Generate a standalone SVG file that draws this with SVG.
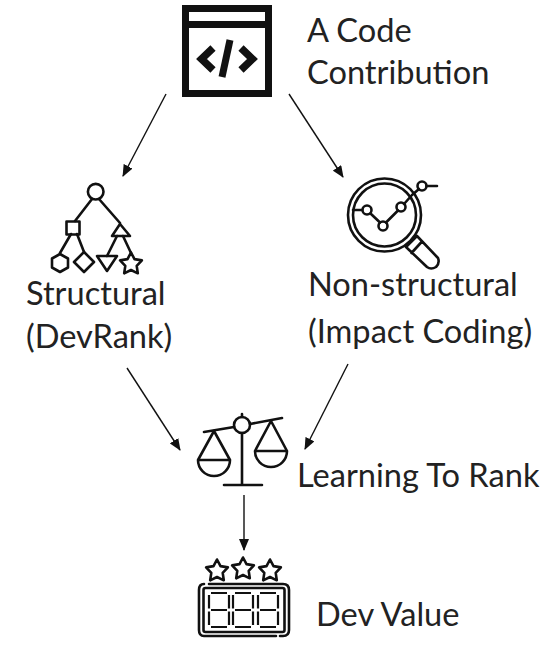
<svg xmlns="http://www.w3.org/2000/svg" width="557" height="645" viewBox="0 0 557 645">
<style>
text{font-family:"Lato","Open Sans","Liberation Sans",sans-serif;font-size:32.600px;fill:#222}
.l{fill:none;stroke:#111;stroke-width:2.600;stroke-linejoin:round;stroke-linecap:round}
.c{fill:none;stroke:#111;stroke-width:1.400}
.d{fill:none;stroke:#111;stroke-width:2.200;stroke-linecap:butt}
</style>
<defs>
<marker id="a" markerWidth="12" markerHeight="10" refX="11" refY="5" orient="auto" markerUnits="userSpaceOnUse"><path d="M0 0L12 5L0 10Z" fill="#111"/></marker>
<path id="s" d="M0-11.500L3.500-4.900L10.900-3.600L5.700 1.900L6.800 9.300L0 6L-6.800 9.300L-5.700 1.900L-10.900-3.600L-3.500-4.900Z"/>
<g id="dg"><path d="M2 0H18M2 34H18M2 17H18M0 2V15.500M0 18.500V32M20 2V15.500M20 18.500V32"/></g>
</defs>
<g id="connectors">
<path class="c" marker-end="url(#a)" d="M166 94L123 176"/>
<path class="c" marker-end="url(#a)" d="M289 94L343 177"/>
<path class="c" marker-end="url(#a)" d="M127 368L180 450"/>
<path class="c" marker-end="url(#a)" d="M348 364L305 449"/>
<path class="c" marker-end="url(#a)" d="M244 495V550"/>
</g>
<g id="code">
<rect x="185.500" y="8.500" width="83" height="85" fill="none" stroke="#111" stroke-width="7"/>
<path d="M182 24.500H272" stroke="#111" stroke-width="7" fill="none"/>
<path d="M213 48L201.500 59L213 70M241 48L252.500 59L241 70" fill="none" stroke="#111" stroke-width="7.500"/>
<path d="M230 40L222 77" fill="none" stroke="#111" stroke-width="7"/>
<text x="307" y="42">A Code</text>
<text x="307" y="84">Contribution</text>
</g>
<g id="structural">
<circle class="l" cx="95.700" cy="191.700" r="7.800"/>
<path class="l" d="M92 199L75 221M99 199L120 223M71 234L60 253M77 234L84 252M117 236L107 256M123 236L131 253"/>
<rect class="l" x="66.500" y="221.500" width="13" height="13"/>
<path class="l" d="M120 224L112 236H130Z"/>
<path class="l" d="M60 254L68 258.500V267.500L60 272L52 267.500V258.500Z"/>
<path class="l" d="M84 252L94 262L84 272L74 262Z"/>
<path class="l" d="M97 256H117L107 271Z"/>
<use href="#s" x="131" y="264" class="l"/>
<text x="26" y="305">Structural</text>
<text x="26" y="348">(DevRank)</text>
</g>
<g id="nonstructural">
<circle class="l" cx="384.500" cy="215" r="36.500"/>
<circle class="l" cx="384.500" cy="215" r="31.500"/>
<circle class="l" cx="367" cy="210" r="4.500"/>
<circle class="l" cx="383" cy="226" r="4.500"/>
<circle class="l" cx="401" cy="207" r="4.500"/>
<circle class="l" cx="422" cy="186" r="4.500"/>
<path class="l" d="M353 210H362M370.500 213.500L380 222.500M386 222.500L398 210.500M404 204L412 195M412 195L419 189M426.500 186H437"/>
<path class="l" stroke-width="2.200" d="M406 247L417 236L438 258Q440 263 436 267Q431 270 427 267ZM411.500 253L422 241.500"/>
<text x="308" y="296">Non-structural</text>
<text x="308" y="343">(Impact Coding)</text>
</g>
<g id="ltr">
<circle class="l" cx="242" cy="425" r="8"/>
<path class="l" d="M204 432L234 427M250 424L282 418M242 417V414M242 433V485M224 485H262"/>
<path class="l" d="M214 431L198 460H230ZM198 460A16 16 0 0 0 230 460"/>
<path class="l" d="M271 421L255 451H287ZM255 451A16 16 0 0 0 287 451"/>
<text x="297" y="487">Learning To Rank</text>
</g>
<g id="devvalue">
<use href="#s" x="217" y="571" class="l"/>
<use href="#s" x="243" y="569" class="l"/>
<use href="#s" x="270" y="571" class="l"/>
<path class="l" stroke-width="2.200" d="M209 584H283Q289 584 289 590V630Q289 636 283 636H280M276 636H204Q199 636 199 630V590Q199 584 204 584"/>
<rect class="l" stroke-width="2.200" x="203.500" y="588" width="81" height="44" rx="2"/>
<use href="#dg" x="209" y="593" class="d"/>
<use href="#dg" x="233" y="593" class="d"/>
<use href="#dg" x="258" y="593" class="d"/>
<text x="316" y="626">Dev Value</text>
</g>
</svg>
